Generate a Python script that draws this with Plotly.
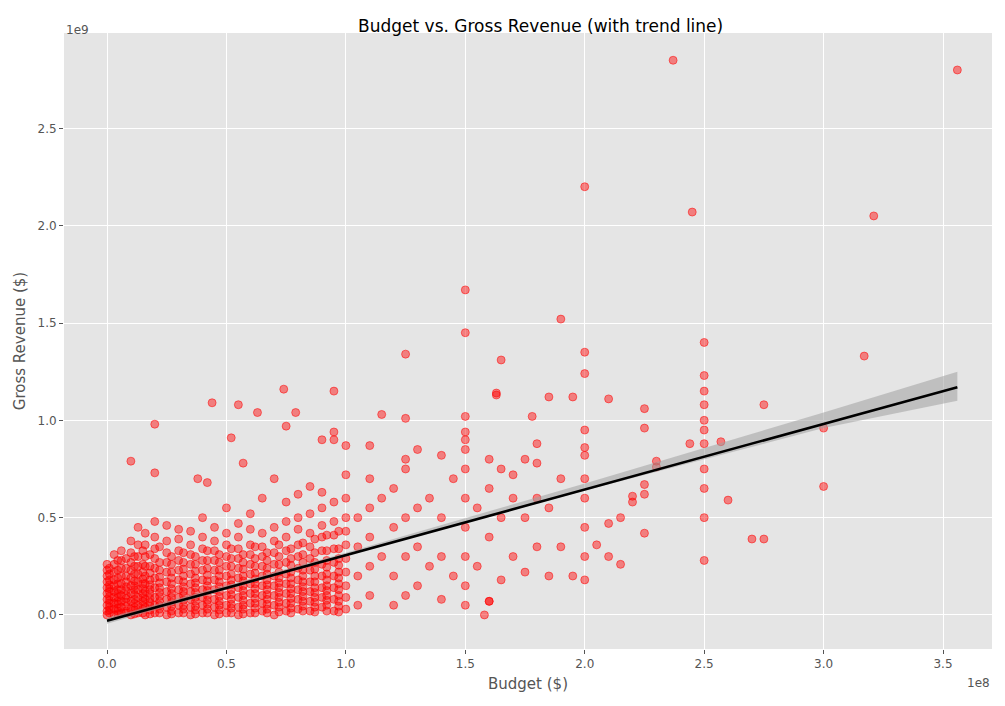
import plotly.graph_objects as go

# Budget in units of 1e8 $, gross in units of 1e9 $
cluster_budget = (
    [0.0]*10 + [0.03]*10 + [0.06]*10 + [0.1]*10 + [0.13]*10 + [0.16]*10 + [0.2]*10 +
    [0.25]*10 + [0.3]*10 + [0.35]*10 + [0.4]*10 + [0.45]*10 + [0.5]*10 + [0.55]*10 +
    [0.6]*10 + [0.65]*10 + [0.7]*10 + [0.75]*10 + [0.8]*10 + [0.85]*10 + [0.9]*10 + [0.95]*10 + [1.0]*10
)
cluster_gross = [
    0.0, 0.02, 0.05, 0.08, 0.11, 0.14, 0.17, 0.2, 0.23, 0.26,
    0.0, 0.03, 0.06, 0.09, 0.12, 0.15, 0.18, 0.22, 0.26, 0.31,
    0.01, 0.04, 0.07, 0.1, 0.13, 0.16, 0.2, 0.24, 0.28, 0.33,
    0.0, 0.03, 0.07, 0.11, 0.15, 0.19, 0.23, 0.27, 0.32, 0.38,
    0.01, 0.05, 0.09, 0.13, 0.17, 0.21, 0.25, 0.3, 0.36, 0.45,
    0.0, 0.04, 0.08, 0.12, 0.16, 0.2, 0.25, 0.3, 0.36, 0.42,
    0.01, 0.05, 0.09, 0.14, 0.19, 0.24, 0.29, 0.34, 0.4, 0.48,
    0.0, 0.04, 0.08, 0.12, 0.17, 0.22, 0.27, 0.32, 0.38, 0.46,
    0.01, 0.05, 0.09, 0.13, 0.18, 0.23, 0.28, 0.33, 0.39, 0.44,
    0.0, 0.04, 0.08, 0.12, 0.16, 0.21, 0.26, 0.31, 0.36, 0.43,
    0.01, 0.05, 0.09, 0.13, 0.18, 0.23, 0.28, 0.34, 0.4, 0.5,
    0.0, 0.04, 0.08, 0.13, 0.18, 0.23, 0.28, 0.33, 0.38, 0.45,
    0.01, 0.05, 0.1, 0.15, 0.2, 0.25, 0.3, 0.36, 0.42, 0.55,
    0.0, 0.04, 0.09, 0.14, 0.19, 0.24, 0.29, 0.34, 0.4, 0.47,
    0.01, 0.06, 0.11, 0.16, 0.21, 0.26, 0.31, 0.36, 0.44, 0.52,
    0.02, 0.06, 0.1, 0.15, 0.2, 0.25, 0.3, 0.35, 0.42, 0.6,
    0.0, 0.05, 0.1, 0.15, 0.2, 0.26, 0.32, 0.38, 0.45, 0.7,
    0.02, 0.06, 0.11, 0.16, 0.21, 0.27, 0.33, 0.4, 0.48, 0.58,
    0.03, 0.08, 0.13, 0.18, 0.24, 0.3, 0.36, 0.44, 0.5, 0.62,
    0.02, 0.07, 0.12, 0.17, 0.23, 0.29, 0.35, 0.42, 0.52, 0.66,
    0.04, 0.09, 0.14, 0.2, 0.26, 0.33, 0.4, 0.46, 0.55, 0.63,
    0.02, 0.08, 0.14, 0.2, 0.27, 0.34, 0.41, 0.48, 0.58, 0.9,
    0.03, 0.09, 0.15, 0.22, 0.29, 0.36, 0.43, 0.5, 0.6, 0.72,
]
dense_budget = (
    [0.01]*12 + [0.045]*12 + [0.08]*12 + [0.115]*12 + [0.15]*12 + [0.18]*12 + [0.22]*12 +
    [0.27]*12 + [0.32]*12 + [0.37]*12 + [0.42]*12 + [0.47]*12 + [0.52]*12 + [0.57]*12 +
    [0.62]*12 + [0.67]*12 + [0.72]*12 + [0.77]*12 + [0.82]*12 + [0.87]*12 + [0.92]*12 + [0.97]*12
)
dense_gross = [
    0.01, 0.025, 0.04, 0.06, 0.075, 0.095, 0.12, 0.135, 0.155, 0.18, 0.21, 0.24,
    0.005, 0.02, 0.035, 0.055, 0.07, 0.09, 0.11, 0.13, 0.16, 0.19, 0.23, 0.28,
    0.01, 0.02, 0.045, 0.065, 0.085, 0.1, 0.125, 0.145, 0.17, 0.2, 0.24, 0.29,
    0.005, 0.025, 0.04, 0.06, 0.08, 0.105, 0.13, 0.15, 0.175, 0.21, 0.25, 0.3,
    0.01, 0.03, 0.05, 0.07, 0.09, 0.11, 0.135, 0.16, 0.185, 0.22, 0.26, 0.33,
    0.005, 0.025, 0.045, 0.065, 0.085, 0.11, 0.13, 0.155, 0.18, 0.215, 0.25, 0.31,
    0.01, 0.03, 0.05, 0.07, 0.095, 0.115, 0.14, 0.165, 0.195, 0.23, 0.27, 0.35,
    0.005, 0.02, 0.045, 0.065, 0.09, 0.11, 0.135, 0.16, 0.19, 0.22, 0.26, 0.3,
    0.01, 0.03, 0.05, 0.075, 0.1, 0.12, 0.145, 0.17, 0.2, 0.235, 0.27, 0.32,
    0.005, 0.025, 0.045, 0.07, 0.09, 0.115, 0.14, 0.165, 0.19, 0.225, 0.26, 0.3,
    0.01, 0.03, 0.055, 0.075, 0.1, 0.125, 0.15, 0.175, 0.205, 0.24, 0.28, 0.33,
    0.005, 0.025, 0.05, 0.07, 0.095, 0.12, 0.145, 0.17, 0.2, 0.23, 0.27, 0.31,
    0.01, 0.035, 0.055, 0.08, 0.105, 0.13, 0.155, 0.18, 0.21, 0.25, 0.29, 0.34,
    0.005, 0.03, 0.05, 0.075, 0.1, 0.125, 0.15, 0.175, 0.2, 0.235, 0.27, 0.31,
    0.01, 0.035, 0.06, 0.085, 0.11, 0.135, 0.16, 0.185, 0.215, 0.25, 0.29, 0.35,
    0.01, 0.03, 0.055, 0.08, 0.105, 0.13, 0.155, 0.18, 0.21, 0.24, 0.28, 0.32,
    0.015, 0.04, 0.065, 0.09, 0.115, 0.14, 0.165, 0.19, 0.22, 0.26, 0.3, 0.36,
    0.01, 0.035, 0.06, 0.085, 0.11, 0.135, 0.16, 0.19, 0.22, 0.255, 0.29, 0.34,
    0.02, 0.045, 0.07, 0.095, 0.12, 0.145, 0.17, 0.2, 0.23, 0.27, 0.31, 0.37,
    0.015, 0.04, 0.065, 0.09, 0.115, 0.14, 0.17, 0.2, 0.235, 0.27, 0.32, 0.39,
    0.02, 0.05, 0.075, 0.1, 0.125, 0.15, 0.18, 0.21, 0.245, 0.28, 0.33, 0.41,
    0.015, 0.045, 0.07, 0.1, 0.13, 0.16, 0.19, 0.22, 0.255, 0.29, 0.34, 0.43,
]
sparse_budget = [
    1.05, 1.05, 1.05, 1.05, 1.1, 1.1, 1.1, 1.1, 1.1, 1.15, 1.15, 1.2, 1.2, 1.2, 1.2, 1.25, 1.25, 1.25, 1.25, 1.25,
    1.3, 1.3, 1.3, 1.3, 1.35, 1.35, 1.4, 1.4, 1.4, 1.4, 1.45, 1.45, 1.5, 1.5, 1.5, 1.5, 1.5, 1.5, 1.5, 1.5,
    1.55, 1.55, 1.6, 1.6, 1.6, 1.6, 1.65, 1.65, 1.65, 1.7, 1.7, 1.7, 1.75, 1.75, 1.75, 1.8, 1.8, 1.8, 1.8,
    1.85, 1.85, 1.9, 1.9, 1.95, 2.0, 2.0, 2.0, 2.0, 2.0, 2.0, 2.0, 2.05, 2.1, 2.1, 2.15, 2.2, 2.25, 2.25,
    2.3, 2.5, 2.5, 2.5, 2.5, 2.5,
]
sparse_gross = [
    0.05, 0.2, 0.35, 0.5, 0.1, 0.25, 0.4, 0.55, 0.7, 0.3, 0.6, 0.05, 0.2, 0.45, 0.65, 0.1, 0.3, 0.5, 0.75, 0.8,
    0.15, 0.35, 0.55, 0.85, 0.25, 0.6, 0.08, 0.3, 0.5, 0.82, 0.2, 0.7, 0.05, 0.15, 0.3, 0.45, 0.6, 0.75, 0.85, 0.9,
    0.25, 0.55, 0.07, 0.4, 0.65, 0.8, 0.18, 0.5, 0.75, 0.3, 0.6, 0.72, 0.22, 0.5, 0.8, 0.35, 0.6, 0.78, 0.88,
    0.2, 0.55, 0.35, 0.7, 0.2, 0.18, 0.3, 0.45, 0.6, 0.7, 0.82, 0.86, 0.36, 0.47, 0.3, 0.5, 0.58, 0.62, 0.67,
    0.76, 0.5, 0.65, 0.75, 0.95, 1.0,
]
outlier_budget = [2.37, 3.56, 2.0, 2.45, 3.21, 1.5, 1.9, 1.5, 2.5, 2.0, 1.25, 3.17, 1.65, 2.0, 2.5, 0.74, 0.95,
                  1.63, 1.63, 2.5, 0.44, 0.55, 2.75, 2.5, 0.63, 0.79, 1.15, 1.5, 1.78, 1.25, 2.25, 0.2, 0.75,
                  3.0, 2.25, 2.0, 1.5, 0.95, 0.52, 2.44, 2.57, 2.5, 0.1, 0.57, 0.2, 2.6, 3.0, 2.5, 2.7, 2.75,
                  1.58, 1.6, 2.15, 2.25, 2.3, 2.2, 2.1, 1.85, 1.95, 1.1, 1.0, 0.9, 0.38, 0.42]
outlier_gross = [2.85, 2.80, 2.2, 2.07, 2.05, 1.67, 1.52, 1.45, 1.40, 1.35, 1.34, 1.33, 1.31, 1.24, 1.23, 1.16, 1.15,
                 1.14, 1.13, 1.15, 1.09, 1.08, 1.08, 1.08, 1.04, 1.04, 1.03, 1.02, 1.02, 1.01, 1.06, 0.98, 0.97,
                 0.96, 0.96, 0.95, 0.94, 0.94, 0.91, 0.88, 0.89, 0.88, 0.79, 0.78, 0.73, 0.59, 0.66, 0.28, 0.39, 0.39,
                 0.0, 0.07, 0.26, 0.42, 0.79, 0.61, 1.11, 1.12, 1.12, 0.87, 0.87, 0.9, 0.70, 0.68]

trend_x = [0.0, 3.56]
trend_y = [-0.03, 1.17]
band_x = [0.0, 1.0, 2.0, 3.0, 3.56]
band_lo = [-0.045, 0.305, 0.64, 0.96, 1.10]
band_hi = [-0.015, 0.32, 0.675, 1.04, 1.25]

budget = cluster_budget + dense_budget + sparse_budget + outlier_budget
gross = cluster_gross + dense_gross + sparse_gross + outlier_gross

fig = go.Figure()
fig.add_trace(go.Scatter(x=budget, y=gross, mode="markers",
                         marker=dict(color="rgba(255,0,0,0.45)", size=8, line=dict(width=1, color="rgba(255,0,0,0.5)"))))
fig.add_trace(go.Scatter(x=band_x + band_x[::-1], y=band_hi + band_lo[::-1], fill="toself",
                         fillcolor="rgba(160,160,160,0.55)", line=dict(width=0), mode="lines"))
fig.add_trace(go.Scatter(x=trend_x, y=trend_y, mode="lines", line=dict(color="black", width=2.5)))

axis = dict(showgrid=True, gridcolor="white", gridwidth=1, zeroline=False, ticks="outside",
            tickcolor="#555", ticklen=4, tickfont=dict(size=12, color="#555"), showline=False)
fig.update_layout(
    width=1005, height=706, showlegend=False,
    paper_bgcolor="white", plot_bgcolor="#E5E5E5",
    margin=dict(l=56, r=21, t=25, b=65),
    font=dict(family="DejaVu Sans"),
    title=dict(text="Budget vs. Gross Revenue (with trend line)", x=0.53, xanchor="center",
               yref="container", y=0.975, yanchor="middle", automargin=False,
               font=dict(size=17, color="black")),
    xaxis=dict(axis, range=[-0.18, 3.705], tickvals=[0, 0.5, 1, 1.5, 2, 2.5, 3, 3.5],
               ticktext=["0.0", "0.5", "1.0", "1.5", "2.0", "2.5", "3.0", "3.5"],
               title=dict(text="Budget ($)", font=dict(size=15, color="#555"), standoff=8)),
    yaxis=dict(axis, range=[-0.175, 2.99], tickvals=[0, 0.5, 1, 1.5, 2, 2.5],
               ticktext=["0.0", "0.5", "1.0", "1.5", "2.0", "2.5"],
               title=dict(text="Gross Revenue ($)", font=dict(size=15, color="#555"), standoff=8)),
    annotations=[
        dict(text="1e9", x=0, y=1, xref="paper", yref="paper", xanchor="left", yanchor="bottom",
             showarrow=False, font=dict(size=12, color="#555"), yshift=-6),
        dict(text="1e8", x=1, y=0, xref="paper", yref="paper", xanchor="right", yanchor="top",
             showarrow=False, font=dict(size=12, color="#555"), yshift=-25),
    ],
)
fig.write_html("out.html")
